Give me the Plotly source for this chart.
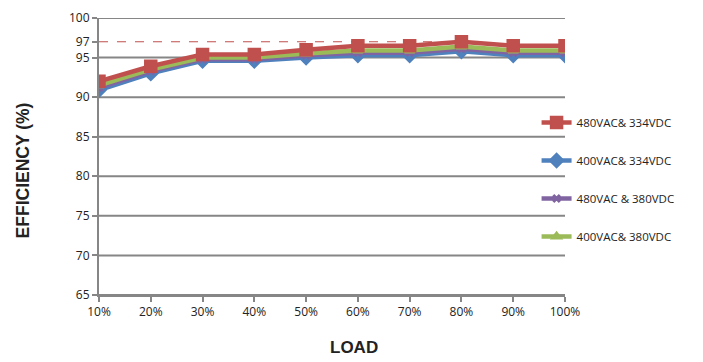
import plotly.graph_objects as go

loads = ["10%", "20%", "30%", "40%", "50%", "60%", "70%", "80%", "90%", "100%"]
eff_480_334 = [92.0, 93.9, 95.4, 95.4, 96.0, 96.5, 96.5, 97.0, 96.5, 96.5]
eff_400_334 = [90.9, 93.0, 94.6, 94.6, 95.0, 95.3, 95.3, 95.8, 95.3, 95.3]
eff_480_380 = [91.2, 93.3, 94.8, 94.8, 95.3, 95.6, 95.6, 96.1, 95.6, 95.6]
eff_400_380 = [91.5, 93.5, 95.0, 95.0, 95.5, 95.9, 95.9, 96.4, 95.9, 95.9]
y_ticks = [65, 70, 75, 80, 85, 90, 95, 97, 100]
grid_vals = [65, 70, 75, 80, 85, 90, 95, 100]
ref_line = 97

series = [
    ("480VAC& 334VDC", eff_480_334, "#C0504D", "square", 12),
    ("400VAC& 334VDC", eff_400_334, "#4F81BD", "diamond", 11),
    ("480VAC & 380VDC", eff_480_380, "#8064A2", "x", 8),
    ("400VAC& 380VDC", eff_400_380, "#9BBB59", "triangle-up", 9),
]

fig = go.Figure()
order = [1, 2, 3, 0]
for i in order:
    name, vals, col, sym, sz = series[i]
    fig.add_trace(go.Scatter(
        x=list(range(len(loads))), y=vals, name=name, mode="lines+markers",
        line=dict(color=col, width=4.5),
        marker=dict(symbol=sym, size=sz, color=col,
                    line=dict(color=col, width=1.5 if sym != "x" else 0)),
        legendgroup=name, legendrank=i + 1,
    ))

shapes = []
for g in grid_vals:
    shapes.append(dict(type="line", xref="x", yref="y", x0=0, x1=len(loads) - 1,
                       y0=g, y1=g, line=dict(color="#868686", width=2), layer="below"))
shapes.append(dict(type="line", xref="x", yref="y", x0=0, x1=7, y0=ref_line, y1=ref_line,
                   line=dict(color="#C0504D", width=1.2, dash="dash"), layer="below"))

fig.update_layout(
    width=695, height=352,
    margin=dict(l=91, r=138, t=10, b=65, autoexpand=False),
    paper_bgcolor="white", plot_bgcolor="white",
    font=dict(family="Open Sans", size=12, color="#222222"),
    shapes=shapes,
    showlegend=True,
    legend=dict(x=0.939, y=0.675, xanchor="left", yanchor="top",
                bgcolor="rgba(0,0,0,0)", traceorder="grouped", tracegroupgap=19,
                font=dict(size=11.5, family="Open Sans", color="#222222"),
                itemwidth=30),
    annotations=[
        dict(text="<b>LOAD</b>", x=0.547, y=-0.188, xref="paper", yref="paper",
             xanchor="center", yanchor="middle", showarrow=False,
             font=dict(family="Liberation Sans", size=17, color="#222222")),
        dict(text="<b>EFFICIENCY (%)</b>", x=-0.163, y=0.45, xref="paper", yref="paper",
             xanchor="center", yanchor="middle", textangle=-90, showarrow=False,
             font=dict(family="Liberation Sans", size=17.5, color="#222222")),
    ],
)
fig.update_xaxes(range=[0, len(loads) - 1], tickvals=list(range(len(loads))), ticktext=loads,
                 showgrid=False, zeroline=False, showline=True, linecolor="#868686", linewidth=2,
                 ticks="outside", ticklen=5, tickcolor="#868686", tickwidth=2,
                 tickfont=dict(size=12), automargin=False)
fig.update_yaxes(range=[65, 100], tickvals=y_ticks, showgrid=False, zeroline=False,
                 showline=True, linecolor="#868686", linewidth=2,
                 ticks="outside", ticklen=5, tickcolor="#868686", tickwidth=2,
                 tickfont=dict(size=12), automargin=False)

fig.write_html("out.html")
